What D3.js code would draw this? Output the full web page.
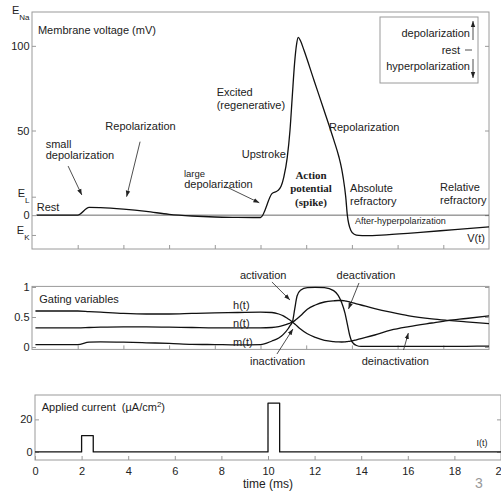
<!DOCTYPE html>
<html><head><meta charset="utf-8">
<script src="https://cdn.jsdelivr.net/npm/d3@7"></script>
<style>
html,body{margin:0;padding:0;background:#fff;}
svg{display:block;font-family:"Liberation Sans",Arial,Helvetica,sans-serif;}
</style></head><body>
<svg id="c" width="501" height="491"></svg>
<script>
// ---------- data ----------
const vTime   = [0.2, 2.0, 2.5, 3.0, 4.0, 5.0, 6.0, 7.0, 8.0, 9.0, 10.0, 10.5, 10.75, 10.9, 11.02, 11.17, 11.29, 11.39, 11.49, 11.58, 11.65, 11.75, 11.9, 12.34, 12.78, 13.21, 13.43, 13.55, 13.62, 13.73, 13.8, 13.95, 14.1, 14.3, 14.6, 15.5, 17.0, 18.5, 20.0];
const vValues = [0, 0, 4.6, 4.4, 3.5, 2.2, 0.5, -0.5, -1.1, -1.3, -1.4, 12.7, 14.5, 17, 22.5, 34, 50, 70, 89.5, 101, 105, 103, 97.5, 79.7, 62, 44.3, 34.5, 27.5, 22, 10.8, 0, -8.9, -11.3, -12, -12.1, -11.6, -10.2, -8.5, -6.9];

const gateTime = [0.15, 2, 2.5, 3, 4, 5, 6, 7, 8, 9, 10, 10.5, 10.8, 11.0, 11.2, 11.3, 11.4, 11.5, 11.6, 11.75, 12.05, 12.4, 12.8, 13.2, 13.4, 13.55, 13.7, 13.8, 13.9, 14.0, 14.2, 14.4, 15, 15.7, 16.5, 17.5, 18.2, 19, 20];
const hValues = [0.60, 0.60, 0.59, 0.58, 0.56, 0.55, 0.55, 0.56, 0.57, 0.575, 0.58, 0.575, 0.55, 0.52, 0.47, 0.445, 0.415, 0.385, 0.35, 0.30, 0.22, 0.16, 0.11, 0.09, 0.085, 0.083, 0.085, 0.09, 0.095, 0.10, 0.12, 0.14, 0.20, 0.28, 0.34, 0.40, 0.44, 0.475, 0.52];
const nValues = [0.32, 0.32, 0.325, 0.33, 0.335, 0.335, 0.33, 0.325, 0.32, 0.32, 0.32, 0.325, 0.34, 0.36, 0.385, 0.40, 0.415, 0.44, 0.47, 0.52, 0.63, 0.70, 0.75, 0.77, 0.775, 0.775, 0.77, 0.76, 0.75, 0.74, 0.72, 0.70, 0.64, 0.58, 0.52, 0.47, 0.445, 0.42, 0.39];
const mValues = [0.04, 0.04, 0.08, 0.085, 0.08, 0.07, 0.06, 0.045, 0.04, 0.035, 0.04, 0.10, 0.15, 0.21, 0.30, 0.36, 0.42, 0.64, 0.85, 0.945, 0.99, 0.995, 0.99, 0.94, 0.86, 0.74, 0.56, 0.38, 0.20, 0.09, 0.025, 0.01, 0.01, 0.01, 0.01, 0.01, 0.01, 0.012, 0.015];

const iTime   = [0, 2, 2, 2.5, 2.5, 10, 10, 10.5, 10.5, 20];
const iValues = [0, 0, 10, 10, 0, 0, 30, 30, 0, 0];

const timeTicks = [0, 2, 4, 6, 8, 10, 12, 14, 16, 18, 20];
const voltTicks = [0, 50, 100];
const reversalNames  = ["Na", "L", "K"];
const reversalValues = [115, 10.6, -12];
const reversalLabelAt = [118.8, 10.7, -11.2];
const gateTicks = [0, 0.5, 1];
const gateTickLabels = ["0", "0.5", "1"];
const currentTicks = [0, 20];

const topNotes = [
  {text: "Membrane voltage (mV)", t: 0.26, v: 109.3},
  {text: "Rest", t: 0.21, v: 4.8},
  {text: "small", t: 0.6, v: 42},
  {text: "depolarization", t: 0.6, v: 35.5},
  {text: "Repolarization", t: 3.21, v: 52.6},
  {text: "large", t: 6.65, v: 24.6, size: 9.5},
  {text: "depolarization", t: 6.66, v: 18.4},
  {text: "Excited", t: 8.08, v: 72.9},
  {text: "(regenerative)", t: 8.08, v: 65},
  {text: "Upstroke", t: 9.18, v: 36.1},
  {text: "Action", t: 12.21, v: 23.7, serif: true},
  {text: "potential", t: 12.21, v: 16.1, serif: true},
  {text: "(spike)", t: 12.21, v: 7.9, serif: true},
  {text: "Repolarization", t: 13.0, v: 52.2},
  {text: "Absolute", t: 13.92, v: 16.2},
  {text: "refractory", t: 13.92, v: 8.3},
  {text: "Relative", t: 17.86, v: 16.8},
  {text: "refractory", t: 17.86, v: 8.9},
  {text: "After-hyperpolarization", t: 14.14, v: -3.5, size: 9},
  {text: "V(t)", t: 19.82, v: -13.3, anchor: "end"}
];
const topArrows = [
  {t1: 1.58, v1: 29.0, t2: 2.18, v2: 11.9},
  {t1: 4.73, v1: 43.4, t2: 4.14, v2: 10.9},
  {t1: 8.49, v1: 16.8, t2: 9.95, v2: 7.3}
];
const gateNotes = [
  {text: "Gating variables", t: 0.32, v: 0.805},
  {text: "h(t)", t: 8.8, v: 0.70},
  {text: "n(t)", t: 8.8, v: 0.40},
  {text: "m(t)", t: 8.8, v: 0.083},
  {text: "activation", t: 9.1, v: 1.2},
  {text: "deactivation", t: 13.33, v: 1.2},
  {text: "inactivation", t: 9.54, v: -0.228},
  {text: "deinactivation", t: 14.43, v: -0.228}
];
const gateArrows = [
  {t1: 10.5, v1: 1.083, t2: 11.29, v2: 0.783},
  {t1: 14.31, v1: 1.067, t2: 13.85, v2: 0.633},
  {t1: 10.72, v1: -0.117, t2: 11.42, v2: 0.30},
  {t1: 16.26, v1: -0.05, t2: 16.47, v2: 0.233}
];
const currentNotes = [
  {text: "I(t)", t: 18.95, v: 5.3, size: 9}
];

// ---------- setup ----------
const svg = d3.select("#c");
const FRAME = "#9a9a9a", INK = "#111", TXT = "#222";

svg.append("defs").append("marker")
  .attr("id", "ah").attr("viewBox", "0 -3 6 6").attr("refX", 6).attr("refY", 0)
  .attr("markerWidth", 6).attr("markerHeight", 6).attr("markerUnits", "userSpaceOnUse")
  .attr("orient", "auto")
  .append("path").attr("d", "M0,-2.2L6,0L0,2.2Z").attr("fill", "#222");

const xTop = d3.scaleLinear([0, 20], [32, 489]);
const yTop = d3.scaleLinear([-20, 120], [249, 12]);
const yGate = d3.scaleLinear([-0.04, 1.01], [349.4, 286.4]);
const xBot = d3.scaleLinear([0, 20], [35, 501]);
const yBot = d3.scaleLinear([-5, 35], [460, 395]);

function frame(x, y) {
  const [x0, x1] = x.range(), [y0, y1] = y.range();
  svg.append("rect").attr("x", x0).attr("y", y1).attr("width", x1 - x0).attr("height", y0 - y1)
    .attr("fill", "none").attr("stroke", FRAME).attr("stroke-width", 1);
}
function styleAxis(g) {
  g.select(".domain").remove();
  g.selectAll("line").attr("stroke", FRAME);
  g.selectAll("text").attr("fill", TXT).attr("font-size", 11)
    .attr("font-family", '"Liberation Sans",Arial,sans-serif');
}
function axes(x, y, xt, yt, xLabels, yFmt) {
  const [x0, x1] = x.range(), [y0] = y.range();
  const gb = svg.append("g").attr("transform", `translate(0,${y0})`)
    .call(d3.axisBottom(x).tickValues(xt).tickSize(-4).tickPadding(7.5)
      .tickFormat(xLabels ? d3.format("d") : ""));
  styleAxis(gb);
  const gl = svg.append("g").attr("transform", `translate(${x0},0)`)
    .call(d3.axisLeft(y).tickValues(yt).tickSize(-4).tickPadding(2.5).tickFormat(yFmt || d3.format("d")));
  styleAxis(gl);
  const gr = svg.append("g").attr("transform", `translate(${x1},0)`)
    .call(d3.axisRight(y).tickValues(yt).tickSize(-4).tickFormat(""));
  styleAxis(gr);
}
function notes(x, y, list) {
  list.forEach(n => {
    svg.append("text").attr("x", x(n.t)).attr("y", y(n.v)).attr("dy", "0.35em")
      .attr("text-anchor", n.serif ? "middle" : (n.anchor || "start"))
      .attr("font-size", n.size || 11)
      .attr("font-family", n.serif ? '"Liberation Serif","Times New Roman",serif' : null)
      .attr("font-weight", n.serif ? "bold" : null)
      .attr("fill", TXT).text(n.text);
  });
}
function arrows(x, y, list) {
  list.forEach(a => {
    svg.append("line").attr("x1", x(a.t1)).attr("y1", y(a.v1)).attr("x2", x(a.t2)).attr("y2", y(a.v2))
      .attr("stroke", "#222").attr("stroke-width", 0.8).attr("marker-end", "url(#ah)");
  });
}
function curve(x, y, ts, vs, curveType, w) {
  const data = ts.map((t, i) => [t, vs[i]]);
  svg.append("path").datum(data)
    .attr("d", d3.line().x(d => x(d[0])).y(d => y(d[1])).curve(curveType))
    .attr("fill", "none").attr("stroke", INK).attr("stroke-width", w || 1.3)
    .attr("stroke-linejoin", "round");
}

// ---------- top panel: membrane voltage ----------
frame(xTop, yTop);
axes(xTop, yTop, timeTicks.slice(1, -1), voltTicks, false);
svg.append("g").selectAll("line").data(reversalValues.slice(1)).join("line")
  .attr("x1", xTop(0)).attr("x2", xTop(0) + 4).attr("y1", d => yTop(d)).attr("y2", d => yTop(d))
  .attr("stroke", FRAME);
reversalNames.forEach((nm, i) => {
  const t = svg.append("text").attr("x", xTop(0) - 2.5).attr("y", yTop(reversalLabelAt[i]))
    .attr("text-anchor", "end").attr("font-size", 11).attr("fill", TXT);
  t.append("tspan").text("E");
  t.append("tspan").attr("dy", 6).attr("font-size", 8).text(nm);
});
svg.append("line").attr("x1", xTop(0.2)).attr("x2", xTop(20)).attr("y1", yTop(0)).attr("y2", yTop(0))
  .attr("stroke", "#444").attr("stroke-width", 0.8);
curve(xTop, yTop, vTime, vValues, d3.curveMonotoneX, 1.3);
notes(xTop, yTop, topNotes);
arrows(xTop, yTop, topArrows);

// legend box
const lg = svg.append("g");
lg.append("rect").attr("x", 380).attr("y", 17).attr("width", 98).attr("height", 66)
  .attr("fill", "#fff").attr("stroke", FRAME);
[["depolarization", 33.5, 470], ["rest", 50, 460], ["hyperpolarization", 66.5, 470]].forEach(([s, y, x]) => {
  lg.append("text").attr("x", x).attr("y", y).attr("dy", "0.35em").attr("text-anchor", "end")
    .attr("font-size", 11).attr("fill", TXT).text(s);
});
lg.append("line").attr("x1", 473).attr("x2", 473).attr("y1", 40).attr("y2", 21)
  .attr("stroke", "#222").attr("stroke-width", 0.8).attr("marker-end", "url(#ah)");
lg.append("line").attr("x1", 473).attr("x2", 473).attr("y1", 59).attr("y2", 78)
  .attr("stroke", "#222").attr("stroke-width", 0.8).attr("marker-end", "url(#ah)");
lg.append("line").attr("x1", 465).attr("x2", 472).attr("y1", 50).attr("y2", 50)
  .attr("stroke", "#222").attr("stroke-width", 0.8);

// ---------- middle panel: gating ----------
frame(xTop, yGate);
axes(xTop, yGate, timeTicks.slice(1, -1), gateTicks, false, (d, i) => gateTickLabels[i]);
curve(xTop, yGate, gateTime, hValues, d3.curveMonotoneX, 1.3);
curve(xTop, yGate, gateTime, nValues, d3.curveMonotoneX, 1.3);
curve(xTop, yGate, gateTime, mValues, d3.curveMonotoneX, 1.3);
notes(xTop, yGate, gateNotes);
arrows(xTop, yGate, gateArrows);

// ---------- bottom panel: applied current ----------
frame(xBot, yBot);
axes(xBot, yBot, timeTicks, currentTicks, true);
curve(xBot, yBot, iTime, iValues, d3.curveLinear, 1.3);
notes(xBot, yBot, currentNotes);
const ac = svg.append("text").attr("x", xBot(0.29)).attr("y", yBot(27.8)).attr("dy", "0.35em")
  .attr("font-size", 11).attr("fill", TXT);
ac.append("tspan").text("Applied current\u00A0\u00A0(\u00B5A/cm");
ac.append("tspan").attr("dy", -4).attr("font-size", 8).text("2");
ac.append("tspan").attr("dy", 4).text(")");

svg.append("text").attr("x", xBot(10)).attr("y", 484).attr("dy", "0.35em").attr("text-anchor", "middle")
  .attr("font-size", 12).attr("fill", TXT).text("time (ms)");
svg.append("text").attr("x", 475).attr("y", 488).attr("font-size", 14).attr("fill", "#999").text("3");
</script>
</body></html>
